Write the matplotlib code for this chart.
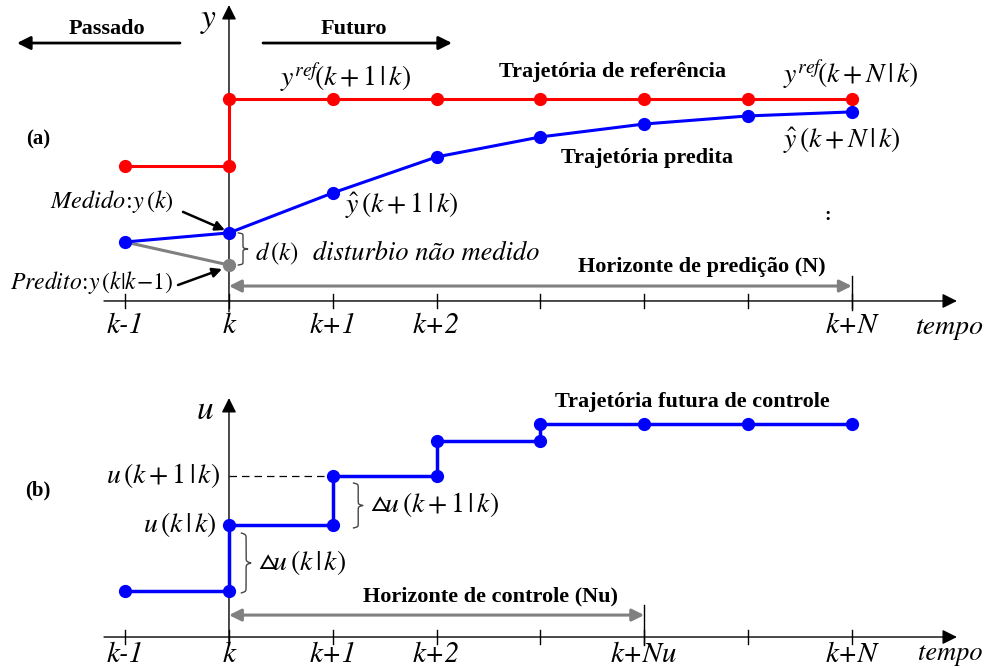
import matplotlib
matplotlib.use("Agg")
import matplotlib.pyplot as plt
import numpy as np

plt.rcParams["mathtext.fontset"] = "stix"
plt.rcParams["font.family"] = ["Liberation Serif", "DejaVu Serif"]

# ── data ── #
t_steps = [-1, 0, 1, 2, 3, 4, 5, 6]          # k-1 ... k+N
tick_labels_top = ["k-1", "k", "k+1", "k+2", "", "", "", "k+N"]
tick_labels_bot = ["k-1", "k", "k+1", "k+2", "", "k+Nu", "", "k+N"]

ref_past = 0.668                              # reference before k
ref_future = 1.0                              # reference from k on
y_pred = [0.292, 0.337, 0.535, 0.713, 0.812, 0.876, 0.916, 0.936]
y_k_pred = 0.178                              # y(k|k-1)

u_levels = [0.216, 0.526, 0.756, 0.920, 1.0, 1.0, 1.0, 1.0]   # u(k-1) ... held
N_pred = 6
N_ctrl = 4

RED = "#FF0000"
BLUE = "#0000FF"
GREY = "#808080"
BOLD = dict(fontweight="bold", fontsize=16, family="Liberation Serif")
ITAL = dict(fontstyle="italic", family="STIXGeneral")
MATH = 20

XLIM = (-2.206, 7.322)


def brace(ax, x, y0, y1, w, color="#444444"):
    """Right-facing curly brace spanning y0..y1 at x."""
    n = 120
    s = np.linspace(0, 1, n)
    beta = 40.0
    half = 1 / (1 + np.exp(-beta * (s - s[0]))) + 1 / (1 + np.exp(-beta * (s - s[-1])))
    curve = np.concatenate([half, half[-2::-1]]) - 0.5
    curve = (curve - curve.min()) / (curve.max() - curve.min())
    ys = np.linspace(y1, y0, len(curve))
    ax.plot(x + w * curve, ys, color=color, lw=1.0)


def draw_time_axis(ax, labels, label_y):
    ax.annotate("", xy=(7.013, 0), xytext=(-1.204, 0),
                arrowprops=dict(arrowstyle="-|>", lw=1.0, color="black",
                                mutation_scale=22, shrinkA=0, shrinkB=0))
    for t, lab in zip(t_steps, labels):
        ax.plot([t, t], [-0.035, 0.035], color="black", lw=1.0)
        if lab:
            ax.text(t, label_y, lab, ha="center", va="center", fontsize=21, **ITAL)


fig = plt.figure(figsize=(9.89, 6.68), dpi=100)

# ── (a) output ── #
ax = fig.add_axes([0, 1 - 345 / 668, 1, 345 / 668])
ax.set_xlim(*XLIM)
ax.set_ylim(-0.218, 1.490)
ax.axis("off")

draw_time_axis(ax, tick_labels_top, -0.125)
ax.annotate("", xy=(0, 1.465), xytext=(0, -0.054),
            arrowprops=dict(arrowstyle="-|>", lw=1.0, color="black",
                            mutation_scale=22, shrinkA=0, shrinkB=0))
ax.text(-0.193, 1.385, r"$y$", ha="center", va="center", fontsize=24)
ax.plot([N_pred, N_pred], [-0.045, 0.124], color="black", lw=1.0)

# Passado / Futuro
ax.annotate("", xy=(-2.042, 1.277), xytext=(-0.472, 1.277),
            arrowprops=dict(arrowstyle="-|>", lw=2.0, color="black",
                            mutation_scale=20, shrinkA=0, shrinkB=0))
ax.annotate("", xy=(2.148, 1.277), xytext=(0.328, 1.277),
            arrowprops=dict(arrowstyle="-|>", lw=2.0, color="black",
                            mutation_scale=20, shrinkA=0, shrinkB=0))
ax.text(-1.175, 1.345, "Passado", ha="center", va="center", **BOLD)
ax.text(1.204, 1.345, "Futuro", ha="center", va="center", **BOLD)
ax.text(-1.840, 0.797, "(a)", ha="center", va="center", fontsize=15,
        fontweight="bold", family="Liberation Serif")

# reference trajectory
ref_t = [t_steps[0], 0, 0] + t_steps[2:]
ref_v = [ref_past, ref_past, ref_future] + [ref_future] * (len(t_steps) - 2)
ax.plot(ref_t, ref_v, color=RED, lw=2.2, marker="o", ms=8.5, zorder=3)

# predicted trajectory
ax.plot([t_steps[0], 0], [y_pred[0], y_k_pred], color=GREY, lw=2.2, zorder=2)
ax.plot(0, y_k_pred, "o", color=GREY, ms=8.5, zorder=3)
ax.plot(t_steps, y_pred, color=BLUE, lw=2.2, marker="o", ms=8.5, zorder=4)

# labels
ax.text(1.127, 1.104, r"$y^{ref}\!(k+\mathit{1}\,|\,k)$", ha="center",
        va="center", fontsize=MATH)
ax.text(3.69, 1.134, "Trajetória de referência", ha="center", va="center", **BOLD)
ax.text(5.99, 1.119, r"$y^{ref}\!(k+N\,|\,k)$", ha="center", va="center",
        fontsize=MATH)
ax.text(5.906, 0.797, r"$\hat{y}\,(k+N\,|\,k)$", ha="center", va="center",
        fontsize=MATH)
ax.text(4.027, 0.708, "Trajetória predita", ha="center", va="center", **BOLD)
ax.text(1.118, 0.475, r"$\hat{y}\,(k+\mathit{1}\,|\,k)$", ha="left",
        va="center", fontsize=MATH)

ax.text(-1.127, 0.490, r"$Medido\!:\!y\,(k)$", ha="center", va="center",
        fontsize=17.5)
ax.annotate("", xy=(-0.039, 0.351), xytext=(-0.443, 0.441),
            arrowprops=dict(arrowstyle="-|>", lw=1.8, color="black",
                            mutation_scale=14, shrinkA=0, shrinkB=0))
ax.text(-2.11, 0.089, r"$Predito\!:\!y\,(k|k\!-\!\mathit{1})$", ha="left",
        va="center", fontsize=17)
ax.annotate("", xy=(-0.067, 0.158), xytext=(-0.491, 0.079),
            arrowprops=dict(arrowstyle="-|>", lw=1.8, color="black",
                            mutation_scale=14, shrinkA=0, shrinkB=0))

brace(ax, 0.09, y_k_pred, y_pred[1], 0.09)
ax.text(0.25, 0.233, r"$d\,(k)$", ha="left", va="center", fontsize=18)
ax.text(0.809, 0.233, "disturbio não medido", ha="left", va="center",
        fontsize=19, **ITAL)

ax.annotate("", xy=(N_pred, 0.074), xytext=(0, 0.074),
            arrowprops=dict(arrowstyle="<|-|>", lw=2.2, color=GREY,
                            mutation_scale=18, shrinkA=0, shrinkB=0))
ax.text(4.557, 0.168, "Horizonte de predição (N)", ha="center", va="center",
        **BOLD)
ax.text(5.771, 0.421, ":", ha="center", va="center", fontsize=14,
        fontweight="bold")
ax.text(6.946, -0.132, "tempo", ha="center", va="center", fontsize=20, **ITAL)

# ── (b) control ── #
bx = fig.add_axes([0, 0, 1, 323 / 668])
bx.set_xlim(*XLIM)
bx.set_ylim(-0.1455, 1.371)
bx.axis("off")

draw_time_axis(bx, tick_labels_bot, -0.086)
bx.annotate("", xy=(0, 1.122), xytext=(0, -0.038),
            arrowprops=dict(arrowstyle="-|>", lw=1.0, color="black",
                            mutation_scale=22, shrinkA=0, shrinkB=0))
bx.text(-0.231, 1.062, r"$u$", ha="center", va="center", fontsize=24)
bx.plot([N_ctrl, N_ctrl], [-0.038, 0.150], color="black", lw=1.0)
bx.text(-1.840, 0.690, "(b)", ha="center", va="center", fontsize=15,
        fontweight="bold", family="Liberation Serif")

# step trajectory u, held through each interval, step up at each instant
step_t, step_u = [t_steps[0]], [u_levels[0]]
for i in range(1, len(t_steps)):
    step_t += [t_steps[i], t_steps[i]]
    step_u += [u_levels[i - 1], u_levels[i]]
bx.plot(step_t, step_u, color=BLUE, lw=2.5, zorder=3)
dot_t, dot_u = [], []
for tt, uu in zip(step_t, step_u):
    if (tt, uu) not in zip(dot_t, dot_u):
        dot_t.append(tt)
        dot_u.append(uu)
bx.plot(dot_t, dot_u, "o", color=BLUE, ms=8.5, zorder=4)

bx.plot([0, 1], [u_levels[2], u_levels[2]], color="black", lw=0.9,
        ls=(0, (6, 4)), zorder=1)
bx.text(-0.087, u_levels[2], r"$u\,(k+\mathit{1}\,|\,k)$", ha="right",
        va="center", fontsize=MATH)
bx.text(-0.125, u_levels[1], r"$u\,(k\,|\,k)$", ha="right", va="center",
        fontsize=MATH)

brace(bx, 1.20, 0.512, 0.723, 0.09)
bx.text(1.358, 0.620, r"$\vartriangle\! u\,(k+\mathit{1}\,|\,k)$", ha="left",
        va="center", fontsize=MATH)
brace(bx, 0.12, 0.207, 0.488, 0.09)
bx.text(0.279, 0.352, r"$\vartriangle\! u\,(k\,|\,k)$", ha="left", va="center",
        fontsize=MATH)

bx.text(4.46, 1.103, "Trajetória futura de controle", ha="center", va="center",
        **BOLD)
bx.annotate("", xy=(N_ctrl, 0.103), xytext=(0, 0.103),
            arrowprops=dict(arrowstyle="<|-|>", lw=2.2, color=GREY,
                            mutation_scale=18, shrinkA=0, shrinkB=0))
bx.text(2.524, 0.190, "Horizonte de controle (Nu)", ha="center", va="center",
        **BOLD)
bx.text(6.946, -0.080, "tempo", ha="center", va="center", fontsize=19, **ITAL)

fig.savefig("out.png", dpi=100, facecolor="white")
